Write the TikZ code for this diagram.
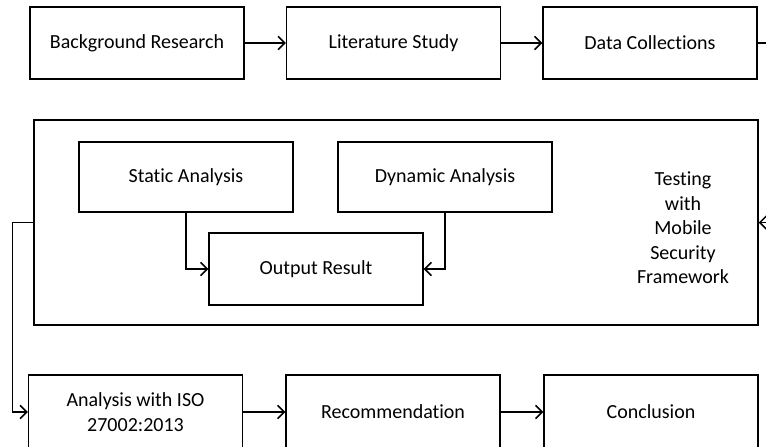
\documentclass[tikz,border=0pt]{standalone}
\usepackage{fontspec}
\setmainfont[Ligatures={NoCommon}]{Carlito}
\usetikzlibrary{arrows.meta}
\begin{document}
\begin{tikzpicture}[x=0.75pt,y=-0.75pt,
  every node/.style={font=\fontsize{15}{18.4}\selectfont},
  box/.style={draw,line width=1.1pt,rectangle,inner sep=0pt,minimum width=160.5pt,minimum height=54pt,align=center},
  arr/.style={line width=1.1pt,-{Straight Barb[length=5pt,width=10pt,line width=1.1pt]}}]
\useasboundingbox (0,0) rectangle (766,446);
% top row
\node[box] (br) at (137,43) {Background Research};
\node[box] (ls) at (393.5,43) {Literature Study};
\node[box] (dc) at (650,43) {Data Collections};
% big box
\node[box,minimum width=543pt,minimum height=153.75pt] (big) at (396,222.5) {};
\node[box,minimum height=52.5pt] (sa) at (186,177) {Static Analysis};
\node[box,minimum height=52.5pt] (da) at (445,177) {Dynamic Analysis};
\node[box] (out) at (316,269) {Output Result};
\node[align=center,inner sep=0pt] (tm) at (683,228) {Testing\\with\\Mobile\\Security\\Framework};
% bottom row
\node[box,minimum height=55.5pt] (ana) at (135.5,412) {Analysis with ISO\\27002:2013};
\node[box,minimum height=55.5pt] (rec) at (393,412) {Recommendation};
\node[box,minimum height=55.5pt] (con) at (651,412) {Conclusion};
% connectors
\draw[arr] (br) -- (ls);
\draw[arr] (ls) -- (dc);
\draw[arr] (dc.east) -- ++(20,0) |- (big.east);
\draw[arr] (sa.south) |- (out.west);
\draw[arr] (da.south) |- (out.east);
\draw[arr] (big.west) -- ++(-21,0) |- (ana.west);
\draw[arr] (ana) -- (rec);
\draw[arr] (rec) -- (con);
\end{tikzpicture}
\end{document}
